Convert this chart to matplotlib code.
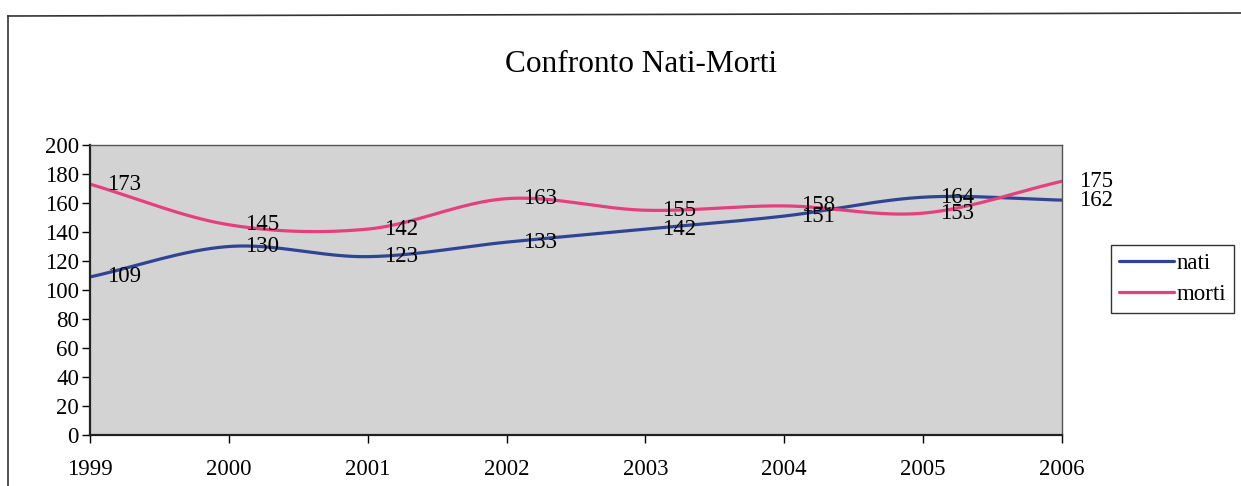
import matplotlib
matplotlib.use("Agg")
import matplotlib.pyplot as plt
from matplotlib.lines import Line2D
import numpy as np

years = ["1999", "2000", "2001", "2002", "2003", "2004", "2005", "2006"]
nati = [109, 130, 123, 133, 142, 151, 164, 162]
morti = [173, 145, 142, 163, 155, 158, 153, 175]

NATI_C = "#2F4594"
MORTI_C = "#E4407E"
PLOT_BG = "#D3D3D3"
FS = 16.5

plt.rcParams.update({
    "font.family": "Liberation Serif",
    "font.size": FS,
})


def smooth(y, n=40):
    # Catmull-Rom curve through the points, like Excel's "smoothed line"
    y = np.asarray(y, float)
    x = np.arange(len(y), dtype=float)
    px = np.concatenate([[2 * x[0] - x[1]], x, [2 * x[-1] - x[-2]]])
    py = np.concatenate([[2 * y[0] - y[1]], y, [2 * y[-1] - y[-2]]])
    xs, ys = [], []
    t = np.linspace(0, 1, n)
    for i in range(1, len(px) - 2):
        for arr, out in ((px, xs), (py, ys)):
            p0, p1, p2, p3 = arr[i - 1:i + 3]
            out.append(0.5 * ((2 * p1) + (-p0 + p2) * t
                              + (2 * p0 - 5 * p1 + 4 * p2 - p3) * t ** 2
                              + (-p0 + 3 * p1 - 3 * p2 + p3) * t ** 3))
    return np.concatenate(xs), np.concatenate(ys)


fig = plt.figure(figsize=(12.41, 4.86), dpi=100)
fig.patch.set_facecolor("white")

# outer chart frame (bottom/right cut off in the scan)
fig.add_artist(Line2D([8 / 1241, 8 / 1241], [0, 1 - 16 / 486],
                      transform=fig.transFigure, color="#333333", lw=1.2))
fig.add_artist(Line2D([8 / 1241, 1], [1 - 16 / 486, 1 - 13 / 486],
                      transform=fig.transFigure, color="#333333", lw=1.2))

ax = fig.add_axes([90 / 1241, 51 / 486, 972 / 1241, 290 / 486])
ax.set_facecolor(PLOT_BG)

x = np.arange(len(years))
for vals, col, lab in ((nati, NATI_C, "nati"), (morti, MORTI_C, "morti")):
    sx, sy = smooth(vals)
    ax.plot(sx, sy, color=col, lw=2.3, label=lab, solid_capstyle="round")
    for xi, v in zip(x, vals):
        ax.annotate(str(v), (xi, v), xytext=(12, 0), textcoords="offset points",
                    ha="left", va="center", fontsize=FS, annotation_clip=False)

ax.set_xlim(0, len(years) - 1)
ax.set_ylim(0, 200)
ax.set_yticks(range(0, 201, 20))
ax.set_xticks(x)
ax.set_xticklabels(years)
ax.tick_params(axis="y", length=6, width=1, pad=2)
ax.tick_params(axis="x", length=6, width=1, pad=11)
for s in ("left", "bottom"):
    ax.spines[s].set_color("#222222")
    ax.spines[s].set_linewidth(1.6)
for s in ("top", "right"):
    ax.spines[s].set_color("#555555")
    ax.spines[s].set_linewidth(1.0)

fig.text(641 / 1241, 1 - 65 / 486, "Confronto Nati-Morti", ha="center",
         va="center", fontsize=22.5)

leg = ax.legend(loc="center left", bbox_to_anchor=(1111 / 1241, 1 - 279 / 486),
                bbox_transform=fig.transFigure, frameon=True, fancybox=False,
                fontsize=FS, handlelength=2.4, handletextpad=0.1,
                borderpad=0.35, labelspacing=0.45, borderaxespad=0)
leg.get_frame().set_edgecolor("black")
leg.get_frame().set_linewidth(1.0)

fig.savefig("out.png", dpi=100)
